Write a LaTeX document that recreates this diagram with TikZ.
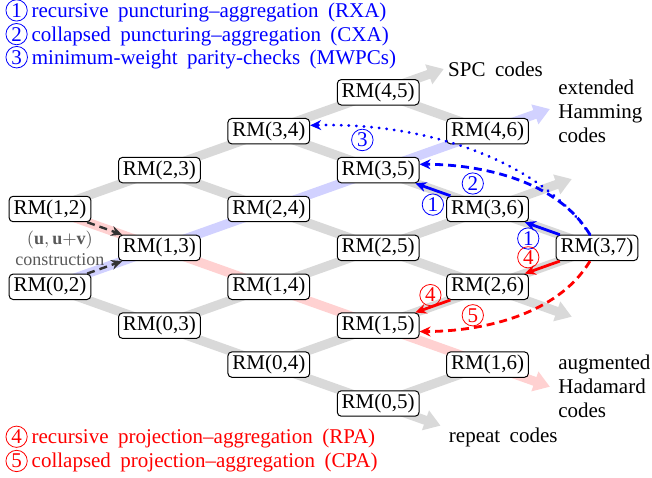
\documentclass[tikz,border=0pt]{standalone}
\usepackage{fontspec}
\setmainfont{Liberation Serif}[WordSpace=1.8]
\usepackage{amsmath,amssymb}
\usepackage{xcolor}
\usepackage{tikz}
\usetikzlibrary{arrows.meta, positioning, calc, backgrounds}

\newcommand{\cnum}[1]{\tikz[baseline=(cn.base)]\node[circle, draw, inner sep=0.7pt, line width=0.4pt] (cn) {#1};\hspace{2pt}}

\tikzset{
    rmnode/.style={draw, fill=white, rounded corners=2pt, inner xsep=2.2pt, inner ysep=1.6pt, line width=0.5pt},
    band/.style={line width=4.6pt, draw=gray!30},
    bandtip/.style={-{Triangle[width=10pt, length=8pt]}},
    numlbl/.style={circle, draw, solid, inner sep=0.7pt, line width=0.4pt, fill=none},
    xa/.style={line width=1.4pt, -{Stealth[length=5.5pt, width=5pt]}},
    dsh/.style={dash pattern=on 4pt off 2.5pt},
    dots/.style={dash pattern=on 0.2pt off 3.6pt, line cap=round},
    famlbl/.style={align=left, inner sep=0pt},
    legtext/.style={anchor=west, inner sep=0pt},
}

\begin{document}
\begin{tikzpicture}[x=54.7pt, y=19.45pt, font=\fontsize{10.5}{12}\selectfont]
    \useasboundingbox (-0.457,-6.915) rectangle (5.503,5.373);
    % RM(r,m) lattice
    \foreach \m/\rs in {2/{0,1}, 3/{0,1,2}, 4/{0,1,2,3}, 5/{0,1,2,3,4}, 6/{1,2,3,4}, 7/{3}} {
        \foreach \r in \rs {
            \node[rmnode] (rm\r\m) at ({\m-2},{2*\r-\m}) {RM(\r,\m)};
        }
    }
    \coordinate (spcend) at ($(rm45)+(0.6,0.6)$);
    \coordinate (hamend) at ($(rm46)+(0.57,0.57)$);
    \coordinate (hadend) at ($(rm16)+(0.57,-0.57)$);
    \coordinate (repend) at ($(rm05)+(0.57,-0.57)$);
    \coordinate (upend) at ($(rm36)+(0.77,0.77)$);
    \coordinate (dnend) at ($(rm26)+(0.77,-0.77)$);

    \begin{scope}[on background layer]
        \foreach \a/\b in {rm02/rm03, rm03/rm04, rm04/rm05, rm23/rm24, rm24/rm25, rm25/rm26,
                           rm34/rm35, rm35/rm36, rm36/rm37, rm45/rm46,
                           rm12/rm23, rm23/rm34, rm34/rm45, rm03/rm14, rm14/rm25, rm25/rm36,
                           rm04/rm15, rm15/rm26, rm26/rm37, rm05/rm16} {
            \draw[band] (\a.center) -- (\b.center);
        }
        \draw[band, bandtip] (rm45.center) -- (spcend);
        \draw[band, bandtip] (rm05.center) -- (repend);
        \draw[band, bandtip] (rm36.center) -- (upend);
        \draw[band, bandtip] (rm26.center) -- (dnend);
        \draw[band, bandtip, draw=blue!18] (rm02.center) -- (rm13.center) -- (rm24.center) -- (rm35.center) -- (rm46.center) -- (hamend);
        \draw[band, bandtip, draw=red!18] (rm12.center) -- (rm13.center) -- (rm14.center) -- (rm15.center) -- (rm16.center) -- (hadend);
    \end{scope}

    \node[famlbl, right=2pt of spcend] (spc) {SPC codes};
    \node[famlbl, right=4pt of hamend, yshift=-1pt] (ham) {extended\\Hamming\\codes};
    \node[famlbl, right=4pt of hadend] (had) {augmented\\Hadamard\\codes};
    \node[famlbl, right=4pt of repend, yshift=-6pt] (rep) {repeat codes};

    % (u,u+v) construction
    \node[align=center, text=black!65, font=\fontsize{9}{10.5}\selectfont, inner sep=0pt] (constr)
        at ($(rm12)!0.5!(rm02)+(0.09,0)$) {$(\mathbf{u},\mathbf{u}{+}\mathbf{v})$\\construction};
    \draw[xa, black!80, dsh, line width=1.2pt] (rm12) -- (rm13);
    \draw[xa, black!80, dsh, line width=1.2pt] (rm02) -- (rm13);

    % puncturing (blue)
    \draw[xa, blue] (rm37) -- node[numlbl, pos=0.9, below=2pt] (l1b) {1} (rm36);
    \draw[xa, blue] (rm36) -- node[numlbl, pos=0.5, below=2pt] (l1a) {1} (rm35);
    \draw[xa, blue, dsh] (rm37.118) .. controls +(-0.30,1.41) and +(0.55,0) .. node[numlbl, pos=0.72, below=2pt] (l2) {2} (rm35.8);
    \draw[xa, blue, dots] (rm37.118) .. controls +(-0.457,1.90) and +(1.07,0.08) .. node[numlbl, pos=0.85, below=1pt] (l3) {3} (rm34.8);

    % projection (red)
    \draw[xa, red] (rm37) -- node[numlbl, pos=0.9, above=2pt] (l4b) {4} (rm26);
    \draw[xa, red] (rm26) -- node[numlbl, pos=0.57, above=0.5pt] (l4a) {4} (rm15);
    \draw[xa, red, dsh] (rm37.242) .. controls +(-0.30,-1.41) and +(0.55,0) .. node[numlbl, pos=0.72, above=0.5pt] (l5) {5} (rm15.-8);

    % legends
    \node[legtext, text=blue] (leg1) at (-0.41,5.1) {\cnum{1}recursive puncturing--aggregation (RXA)};
    \node[legtext, text=blue] (leg2) at (-0.41,4.49) {\cnum{2}collapsed puncturing--aggregation (CXA)};
    \node[legtext, text=blue] (leg3) at (-0.41,3.9) {\cnum{3}minimum-weight parity-checks (MWPCs)};
    \node[legtext, text=red] (leg4) at (-0.41,-5.86) {\cnum{4}recursive projection--aggregation (RPA)};
    \node[legtext, text=red] (leg5) at (-0.41,-6.48) {\cnum{5}collapsed projection--aggregation (CPA)};
\end{tikzpicture}
\end{document}
